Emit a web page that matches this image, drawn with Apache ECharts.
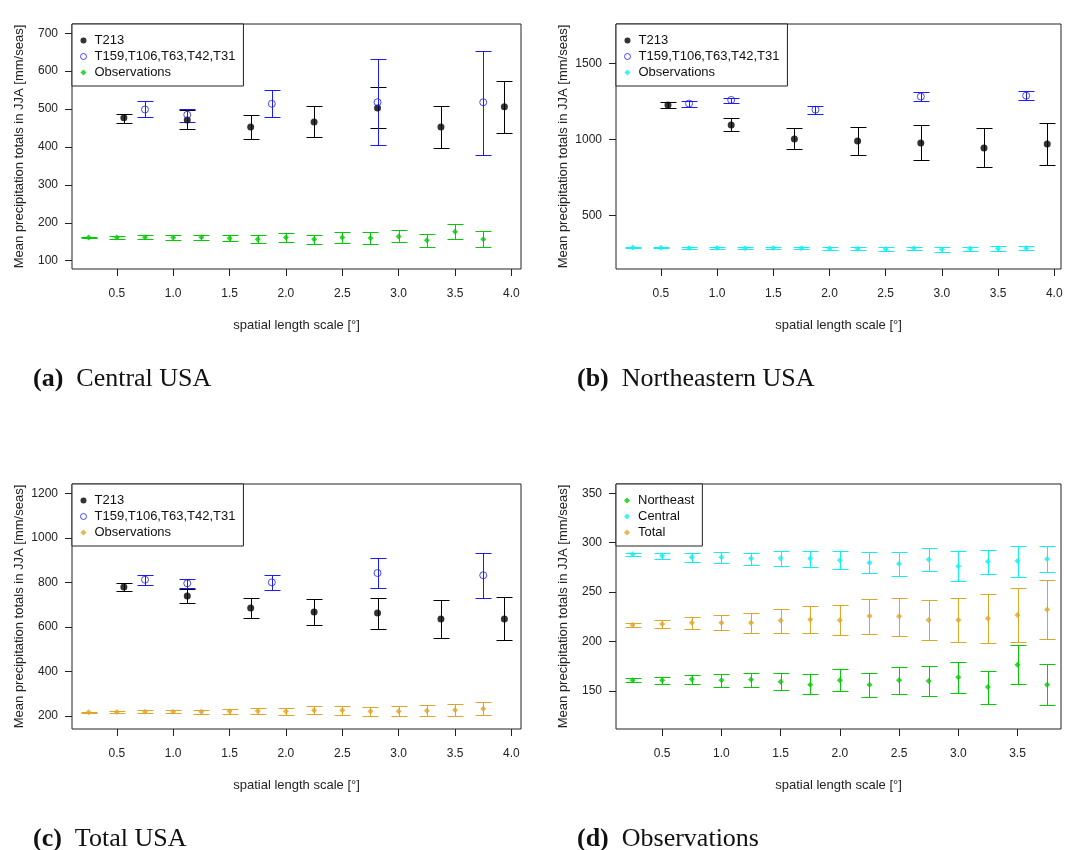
<!DOCTYPE html>
<html>
<head>
<meta charset="utf-8">
<script src="https://cdn.jsdelivr.net/npm/echarts@6/dist/echarts.min.js"></script>
<style>
  html, body { margin: 0; padding: 0; background: #fff; }
  #chart { width: 1069px; height: 850px; }
</style>
</head>
<body>
<div id="chart"></div>
<script>
// ---- spatial length scales [°] ----
const obsScale = [0.25, 0.5, 0.75, 1.0, 1.25, 1.5, 1.75, 2.0, 2.25, 2.5, 2.75, 3.0, 3.25, 3.5, 3.75];
const t213Scale = [0.5625, 1.125, 1.6875, 2.25, 2.8125, 3.375, 3.9375];
const lowResScale = [0.75, 1.125, 1.875, 2.8125, 3.75];   // T159, T106, T63, T42, T31

// ---- tick labels ----
const xTicksModel = [0.5, 1.0, 1.5, 2.0, 2.5, 3.0, 3.5, 4.0];
const xTicksObs = [0.5, 1.0, 1.5, 2.0, 2.5, 3.0, 3.5];
const yTicksCentral = [100, 200, 300, 400, 500, 600, 700];
const yTicksNortheast = [500, 1000, 1500];
const yTicksTotal = [200, 400, 600, 800, 1000, 1200];
const yTicksObs = [150, 200, 250, 300, 350];

// ---- (a) Central USA ----
const centralT213 = [477, 471, 453, 466, 503, 453, 506];
const centralT213Lo = [463, 448, 420, 426, 451, 396, 437];
const centralT213Hi = [488, 497, 485, 507, 557, 509, 573];
const centralLowRes = [499, 485, 514, 518, 518];
const centralLowResLo = [478, 467, 479, 404, 380];
const centralLowResHi = [521, 501, 550, 631, 654];
const obsCentral = [160.8, 160.8, 161.8, 160.8, 161.5, 159.4, 156.4, 160.8, 156.4, 160.8, 160.1, 163.8, 154.0, 176.6, 156.4];
const obsCentralLo = [158.8, 157.4, 156.7, 154.0, 153.7, 150.7, 146.6, 149.7, 143.9, 147.3, 144.6, 148.3, 137.2, 156.7, 135.8];
const obsCentralHi = [162.8, 163.8, 166.5, 166.9, 168.5, 167.9, 166.9, 172.3, 168.5, 174.6, 175.6, 179.7, 170.6, 196.5, 177.3];

// ---- (b) Northeastern USA ----
const neT213 = [1226, 1094, 1002, 989, 976, 943, 969];
const neT213Lo = [1208, 1053, 934, 895, 862, 816, 829];
const neT213Hi = [1243, 1143, 1072, 1083, 1094, 1072, 1108];
const neLowRes = [1235, 1259, 1195, 1281, 1287];
const neLowResLo = [1215, 1241, 1167, 1250, 1257];
const neLowResHi = [1252, 1274, 1217, 1314, 1320];
const obsNortheast = [288.3, 286.9, 285.2, 285.2, 283.9, 284.2, 283.9, 282.2, 279.8, 278.8, 282.9, 276.1, 280.9, 281.5, 283.6];
const obsNortheastLo = [286.3, 283.9, 280.9, 279.8, 277.2, 276.8, 275.5, 273.2, 269.1, 266.7, 271.8, 261.0, 268.0, 265.7, 270.1];
const obsNortheastHi = [290.0, 290.0, 289.3, 290.6, 290.0, 291.3, 291.3, 292.0, 291.0, 290.3, 294.4, 291.7, 293.0, 297.0, 297.0];

// ---- (c) Total USA ----
const totT213 = [779, 739, 685, 667, 663, 636, 636];
const totT213Lo = [763, 706, 639, 607, 589, 550, 540];
const totT213Hi = [797, 772, 731, 727, 731, 723, 734];
const totLowRes = [812, 796, 800, 842, 832];
const totLowResLo = [788, 775, 766, 776, 731];
const totLowResHi = [835, 815, 835, 910, 932];
const obsTotal = [216.8, 217.8, 219.1, 219.1, 219.1, 221.2, 222.2, 221.5, 225.9, 225.5, 221.8, 221.8, 223.2, 226.9, 232.3];
const obsTotalLo = [214.4, 213.4, 212.7, 211.4, 209.0, 209.0, 208.3, 206.3, 207.7, 205.6, 201.3, 199.6, 198.2, 199.9, 203.0];
const obsTotalHi = [218.8, 221.5, 225.2, 227.2, 228.9, 232.6, 235.7, 236.7, 243.4, 244.4, 242.1, 244.4, 247.8, 253.9, 262.0];

// ---- look ----
const SANS = '"Liberation Sans", Arial, Helvetica, sans-serif';
const SERIF = '"Liberation Serif", "Times New Roman", serif';
const INK = '#222';
const C_T213 = '#000000';
const C_LOW = '#1a1aff';
const C_GREEN = '#00cc00';
const C_CYAN = '#10f0f0';
const C_GOLD = '#dfa526';
const CAP = 8;
const Y_TITLE = 'Mean precipitation totals in JJA [mm/seas]';
const X_TITLE = 'spatial length scale [°]';

// panel frames: plot boxes and value ranges
const panels = [
  { grid: { left: 72,  top: 24,  width: 449, height: 245 }, x: [0.1025, 4.085], xt: xTicksModel, y: [78, 724.5],    yt: yTicksCentral },
  { grid: { left: 616, top: 24,  width: 445, height: 245 }, x: [0.10, 4.06],    xt: xTicksModel, y: [146.7, 1758.6], yt: yTicksNortheast },
  { grid: { left: 72,  top: 484, width: 449, height: 245 }, x: [0.1025, 4.085], xt: xTicksModel, y: [141.6, 1241.8], yt: yTicksTotal },
  { grid: { left: 616, top: 484, width: 445, height: 245 }, x: [0.11, 3.867],   xt: xTicksObs,   y: [111.5, 359.4],  yt: yTicksObs }
];

const grids = panels.map(p => Object.assign({
  show: true, borderColor: INK, borderWidth: 1, backgroundColor: 'transparent', containLabel: false
}, p.grid));

const xAxes = panels.map((p, i) => ({
  gridIndex: i, type: 'value', min: p.x[0], max: p.x[1],
  axisLine: { show: false }, splitLine: { show: false },
  axisTick: { show: true, inside: false, length: 7, customValues: p.xt, lineStyle: { color: INK, width: 1 } },
  axisLabel: { customValues: p.xt, margin: 19, fontFamily: SANS, fontSize: 12, color: INK, formatter: v => v.toFixed(1) },
  name: X_TITLE, nameLocation: 'middle', nameGap: 50,
  nameTextStyle: { fontFamily: SANS, fontSize: 13, color: INK }
}));

const yAxes = panels.map((p, i) => ({
  gridIndex: i, type: 'value', min: p.y[0], max: p.y[1],
  axisLine: { show: false }, splitLine: { show: false },
  axisTick: { show: true, inside: false, length: 7, customValues: p.yt, lineStyle: { color: INK, width: 1 } },
  axisLabel: { customValues: p.yt, margin: 14, fontFamily: SANS, fontSize: 12, color: INK, formatter: v => String(v) },
  name: Y_TITLE, nameLocation: 'middle', nameGap: 46, nameRotate: 90,
  nameTextStyle: { fontFamily: SANS, fontSize: 13, color: INK }
}));

// vertical error bar with caps, positioned through the panel's axes
function errorBars(gi, xs, lo, hi, color) {
  return {
    type: 'custom', xAxisIndex: gi, yAxisIndex: gi, silent: true, z: 2,
    data: xs.map((x, i) => [x, lo[i], hi[i]]),
    encode: { x: 0, y: [1, 2] },
    renderItem(params, api) {
      const x = api.value(0);
      const top = api.coord([x, api.value(2)]);
      const bot = api.coord([x, api.value(1)]);
      const cx = Math.round(top[0]) + 0.5;
      const ty = Math.round(top[1]) + 0.5;
      const by = Math.round(bot[1]) + 0.5;
      const style = { stroke: color, lineWidth: 1 };
      return {
        type: 'group',
        children: [
          { type: 'line', shape: { x1: cx, y1: ty, x2: cx, y2: by }, style },
          { type: 'line', shape: { x1: cx - CAP, y1: ty, x2: cx + CAP, y2: ty }, style },
          { type: 'line', shape: { x1: cx - CAP, y1: by, x2: cx + CAP, y2: by }, style }
        ]
      };
    }
  };
}

function points(gi, name, xs, ys, kind, color) {
  const s = {
    type: 'scatter', name, xAxisIndex: gi, yAxisIndex: gi, z: 3,
    data: xs.map((x, i) => [x, ys[i]])
  };
  if (kind === 'dot') {
    s.symbol = 'circle'; s.symbolSize = 7; s.itemStyle = { color };
  } else if (kind === 'ring') {
    s.symbol = 'circle'; s.symbolSize = 7;
    s.itemStyle = { color: 'rgba(0,0,0,0)', borderColor: color, borderWidth: 1 };
  } else {
    s.symbol = 'diamond'; s.symbolSize = 6; s.itemStyle = { color };
  }
  return s;
}

const series = [];
function modelPanel(gi, t, tLo, tHi, l, lLo, lHi, obs, oLo, oHi, obsColor) {
  series.push(errorBars(gi, t213Scale, tLo, tHi, C_T213));
  series.push(points(gi, 'T213', t213Scale, t, 'dot', C_T213));
  series.push(errorBars(gi, lowResScale, lLo, lHi, C_LOW));
  series.push(points(gi, 'T159,T106,T63,T42,T31', lowResScale, l, 'ring', C_LOW));
  series.push(errorBars(gi, obsScale, oLo, oHi, obsColor));
  series.push(points(gi, 'Observations', obsScale, obs, 'diamond', obsColor));
}
modelPanel(0, centralT213, centralT213Lo, centralT213Hi, centralLowRes, centralLowResLo, centralLowResHi,
           obsCentral, obsCentralLo, obsCentralHi, C_GREEN);
modelPanel(1, neT213, neT213Lo, neT213Hi, neLowRes, neLowResLo, neLowResHi,
           obsNortheast, obsNortheastLo, obsNortheastHi, C_CYAN);
modelPanel(2, totT213, totT213Lo, totT213Hi, totLowRes, totLowResLo, totLowResHi,
           obsTotal, obsTotalLo, obsTotalHi, C_GOLD);

// (d): the three observation series side by side, labelled as in its legend
series.push(errorBars(3, obsScale, obsCentralLo, obsCentralHi, C_GREEN));
series.push(points(3, 'Northeast', obsScale, obsCentral, 'diamond', C_GREEN));
series.push(errorBars(3, obsScale, obsNortheastLo, obsNortheastHi, C_CYAN));
series.push(points(3, 'Central', obsScale, obsNortheast, 'diamond', C_CYAN));
series.push(errorBars(3, obsScale, obsTotalLo, obsTotalHi, C_GOLD));
series.push(points(3, 'Total', obsScale, obsTotal, 'diamond', C_GOLD));

function legendBox(left, top, items) {
  return {
    orient: 'vertical', left, top, z: 10,
    itemWidth: 6, itemHeight: 6, itemGap: 1,
    padding: [9, 8, 6, 8],
    borderColor: INK, borderWidth: 1, borderRadius: 0, backgroundColor: '#fff',
    selectedMode: false,
    textStyle: { fontFamily: SANS, fontSize: 13, color: '#111', lineHeight: 15, padding: [0, 0, 0, 3] },
    data: items
  };
}
function modelLegendItems(obsColor) {
  return [
    { name: 'T213', icon: 'circle', itemStyle: { color: C_T213 } },
    { name: 'T159,T106,T63,T42,T31', icon: 'circle',
      itemStyle: { color: 'rgba(0,0,0,0)', borderColor: C_LOW, borderWidth: 1 } },
    { name: 'Observations', icon: 'diamond', itemStyle: { color: obsColor } }
  ];
}
const legends = [
  legendBox(72, 24, modelLegendItems(C_GREEN)),
  legendBox(616, 24, modelLegendItems(C_CYAN)),
  legendBox(72, 484, modelLegendItems(C_GOLD)),
  legendBox(616, 484, [
    { name: 'Northeast', icon: 'diamond', itemStyle: { color: C_GREEN } },
    { name: 'Central', icon: 'diamond', itemStyle: { color: C_CYAN } },
    { name: 'Total', icon: 'diamond', itemStyle: { color: C_GOLD } }
  ])
];

function caption(x, y, tag, text) {
  return {
    type: 'text', left: x, top: y, z: 10,
    style: {
      text: '{b|' + tag + '}  ' + text,
      font: '26px ' + SERIF, fill: '#111',
      rich: { b: { fontWeight: 'bold', fontFamily: SERIF, fontSize: 26, fill: '#111' } }
    }
  };
}

const chart = echarts.init(document.getElementById('chart'), null, { renderer: 'canvas' });
chart.setOption({
  animation: false,
  backgroundColor: '#fff',
  grid: grids,
  xAxis: xAxes,
  yAxis: yAxes,
  legend: legends,
  series,
  graphic: [
    caption(33, 366, '(a)', 'Central USA'),
    caption(577, 366, '(b)', 'Northeastern USA'),
    caption(33, 826, '(c)', 'Total USA'),
    caption(577, 826, '(d)', 'Observations')
  ]
});
</script>
</body>
</html>
